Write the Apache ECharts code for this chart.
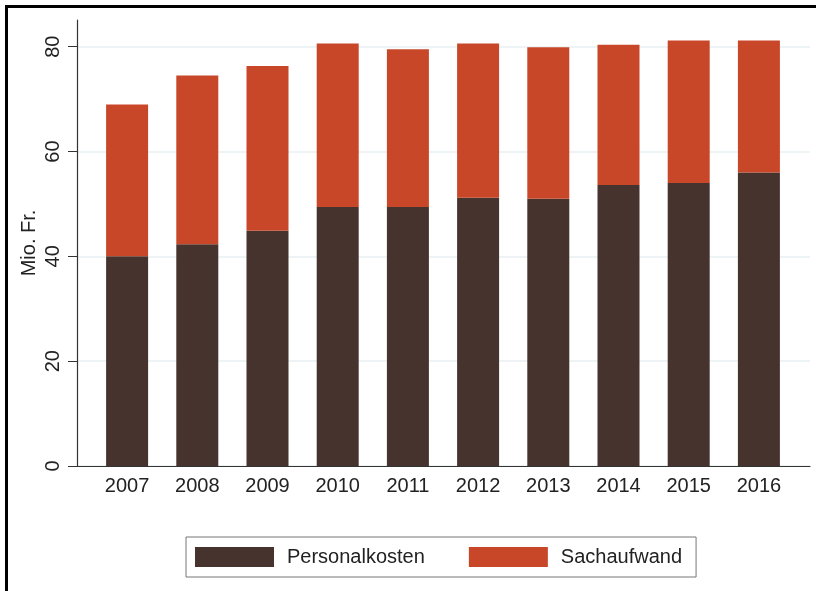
<!DOCTYPE html>
<html>
<head>
<meta charset="utf-8">
<script src="https://cdn.jsdelivr.net/npm/echarts@6/dist/echarts.min.js"></script>
<style>
  html, body { margin: 0; padding: 0; background: #fff; }
  #wrap { position: relative; width: 816px; height: 591px; }
  #chart { width: 816px; height: 591px; }
  #frame {
    position: absolute; left: 5px; top: 5px; right: 0; bottom: 0;
    border-left: 3px solid #000; border-top: 3px solid #000;
    pointer-events: none;
  }
</style>
</head>
<body>
<div id="wrap">
  <div id="chart"></div>
  <div id="frame"></div>
</div>
<script>
// Jahre und Werte (Mio. Fr.)
const years = ['2007', '2008', '2009', '2010', '2011', '2012', '2013', '2014', '2015', '2016'];
const personalkosten = [40.0, 42.3, 44.9, 49.4, 49.4, 51.2, 51.0, 53.6, 54.0, 56.0];
const sachaufwand = [29.0, 32.2, 31.4, 31.2, 30.1, 29.4, 28.9, 26.8, 27.2, 25.2];
const yTicks = [0, 20, 40, 60, 80];

const fontFam = '"Liberation Sans", Arial, sans-serif';
const txt = '#222';

const chart = echarts.init(document.getElementById('chart'));
const option = {
  animation: false,
  textStyle: { fontFamily: fontFam },
  grid: [
    // achsen-rahmen (y-achse, gitter, x-linie)
    { left: 77, right: 6, top: 20, bottom: 125 },
    // balken
    { left: 92, right: 22, top: 20, bottom: 125 }
  ],
  legend: {
    left: 186, top: 537,
    data: ['Personalkosten', 'Sachaufwand'],
    icon: 'rect',
    itemWidth: 79, itemHeight: 20, itemGap: 44,
    padding: [10, 14, 10, 9],
    borderColor: '#777', borderWidth: 1,
    textStyle: { fontSize: 20, color: txt, fontFamily: fontFam, padding: [2, 0, 0, 8] }
  },
  xAxis: [
    {
      gridIndex: 0, type: 'value', min: 0, max: 1,
      axisLine: { show: true, lineStyle: { color: '#333', width: 1.2 } },
      axisTick: { show: false }, axisLabel: { show: false }, splitLine: { show: false }
    },
    {
      gridIndex: 1, type: 'category', data: years,
      axisLine: { show: false }, axisTick: { show: false },
      axisLabel: { fontSize: 20, color: txt, margin: 10, fontFamily: fontFam }
    }
  ],
  yAxis: [
    {
      gridIndex: 0, type: 'value', min: 0, max: 85.1,
      name: 'Mio. Fr.', nameLocation: 'middle', nameGap: 38, nameMoveOverlap: false,
      nameTextStyle: { fontSize: 20, color: txt, fontFamily: fontFam },
      axisLine: { show: true, lineStyle: { color: '#333', width: 1.2 } },
      axisTick: { show: true, length: 9, customValues: yTicks, lineStyle: { color: '#333' } },
      axisLabel: { rotate: 90, fontSize: 20, color: txt, margin: 14, customValues: yTicks, fontFamily: fontFam },
      splitLine: { show: true, lineStyle: { color: '#e8f1f3', width: 1.5 } }
    },
    {
      gridIndex: 1, type: 'value', min: 0, max: 85.1, show: false,
      splitLine: { show: false }
    }
  ],
  series: [
    {
      name: 'Personalkosten', type: 'bar', stack: 'total',
      xAxisIndex: 1, yAxisIndex: 1, barWidth: 42,
      itemStyle: { color: '#47332e' },
      data: personalkosten
    },
    {
      name: 'Sachaufwand', type: 'bar', stack: 'total',
      xAxisIndex: 1, yAxisIndex: 1, barWidth: 42,
      itemStyle: { color: '#c84728' },
      data: sachaufwand
    }
  ]
};
chart.setOption(option);
</script>
</body>
</html>
